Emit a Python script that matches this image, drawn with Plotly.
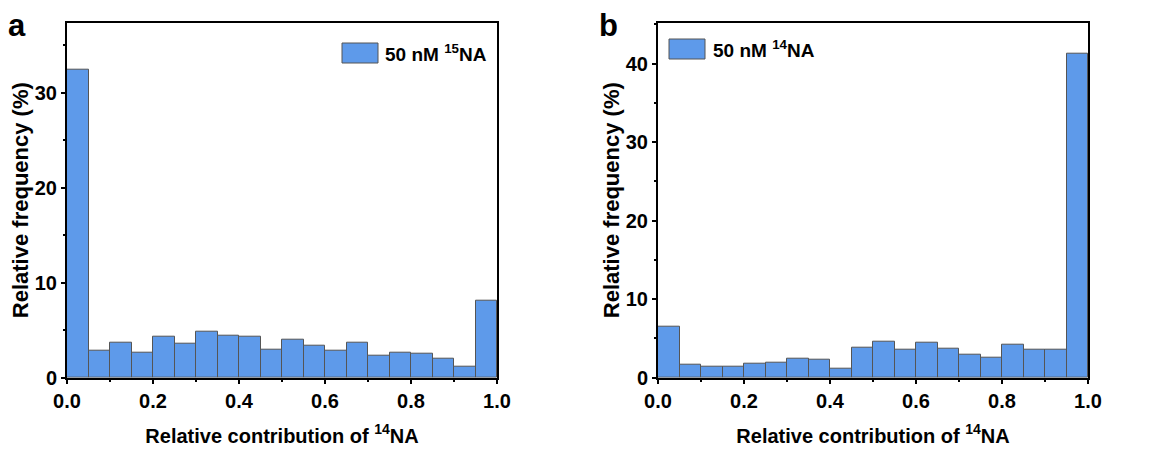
import plotly.graph_objects as go

# ---- data ----
bin_centers = [round(0.025 + 0.05 * i, 3) for i in range(20)]
freq_15NA = [32.4, 2.84, 3.68, 2.63, 4.32, 3.54, 4.84, 4.42, 4.35, 2.98,
             4.0, 3.4, 2.84, 3.72, 2.35, 2.6, 2.53, 2.0, 1.16, 8.07]
freq_14NA = [6.49, 1.61, 1.44, 1.44, 1.82, 1.95, 2.46, 2.25, 1.15, 3.82,
             4.62, 3.52, 4.45, 3.69, 2.88, 2.59, 4.16, 3.52, 3.52, 41.2]
x_ticks = [0.0, 0.2, 0.4, 0.6, 0.8, 1.0]
x_ticklabels = ["0.0", "0.2", "0.4", "0.6", "0.8", "1.0"]
legend_a = "50 nM <sup>15</sup>NA"
legend_b = "50 nM <sup>14</sup>NA"
x_title = "Relative contribution of <sup>14</sup>NA"
y_title = "Relative frequency (%)"

BAR = "#5E9AEA"
EDGE = "#555555"
FONT = "Liberation Sans, Arial, sans-serif"

fig = go.Figure()
fig.add_trace(go.Bar(x=bin_centers, y=freq_15NA, width=0.05, name="50 nM 15NA",
                     marker=dict(color=BAR, line=dict(color=EDGE, width=1)),
                     xaxis="x", yaxis="y", showlegend=False))
fig.add_trace(go.Bar(x=bin_centers, y=freq_14NA, width=0.05, name="50 nM 14NA",
                     marker=dict(color=BAR, line=dict(color=EDGE, width=1)),
                     xaxis="x2", yaxis="y2", showlegend=False))

W, H = 1162, 449
top, bottom = 22.7, 377.7
ydom = [1 - bottom / H, 1 - top / H]
xa_dom = [67 / W, 497 / W]
xb_dom = [658 / W, 1088 / W]

tickfont = dict(family=FONT, size=20, color="black", weight="bold")
xtitlefont = dict(family=FONT, size=20, color="black", weight="bold")
ytitlefont = dict(family=FONT, size=22, color="black", weight="bold")

def xaxis(dom, anchor):
    return dict(domain=dom, anchor=anchor, range=[0, 1], tickvals=x_ticks, ticktext=x_ticklabels,
                ticks="outside", ticklen=4, tickwidth=2, tickcolor="black",
                minor=dict(dtick=0.1, tick0=0, ticks="outside", ticklen=2, tickwidth=2, tickcolor="black"),
                showline=True, linewidth=2, linecolor="black", mirror=True,
                showgrid=False, zeroline=False, tickfont=tickfont, automargin=False,
                title=dict(text=x_title, font=xtitlefont, standoff=18))

def yaxis(rng, anchor):
    return dict(domain=ydom, anchor=anchor, range=rng, dtick=10, tick0=0,
                ticks="outside", ticklen=4, tickwidth=2, tickcolor="black",
                minor=dict(dtick=5, tick0=0, ticks="outside", ticklen=2, tickwidth=2, tickcolor="black"),
                showline=True, linewidth=2, linecolor="black", mirror=True,
                showgrid=False, zeroline=False, tickfont=tickfont, automargin=False,
                title=dict(text=y_title, font=ytitlefont, standoff=0))

fig.update_layout(
    width=W, height=H, margin=dict(l=0, r=0, t=0, b=0),
    paper_bgcolor="white", plot_bgcolor="white", bargap=0,
    xaxis=xaxis(xa_dom, "y"), yaxis=yaxis([0, 37.4], "x"),
    xaxis2=xaxis(xb_dom, "y2"), yaxis2=yaxis([0, 45.2], "x2"),
    font=dict(family=FONT, color="black"),
)

ph = bottom - top
def dy(py):
    return 1 - (py - top) / ph

# legend swatches and labels
legends = [
    ("x domain", "y domain", 342, 378, 43, 63, 383, 53, 67, legend_a),
    ("x2 domain", "y2 domain", 669, 705, 39, 59, 711, 49, 658, legend_b),
]
for xr, yr, x0, x1, y0, y1, tx, ty, left, txt in legends:
    fig.add_shape(type="rect", xref=xr, yref=yr,
                  x0=(x0 - left) / 430, x1=(x1 - left) / 430, y0=dy(y1), y1=dy(y0),
                  fillcolor=BAR, line=dict(color=EDGE, width=1))
    fig.add_annotation(xref=xr, yref=yr, x=(tx - left) / 430, y=dy(ty), text=txt,
                       showarrow=False, xanchor="left", yanchor="middle",
                       font=dict(family=FONT, size=19, color="black", weight="bold"))

# panel labels
for px, lab in [(6, "a"), (597, "b")]:
    fig.add_annotation(xref="paper", yref="paper", x=px / W, y=1 - 6 / H, text=lab,
                       showarrow=False, xanchor="left", yanchor="top",
                       font=dict(family=FONT, size=31, color="black", weight="bold"))

fig.write_html("out.html")
